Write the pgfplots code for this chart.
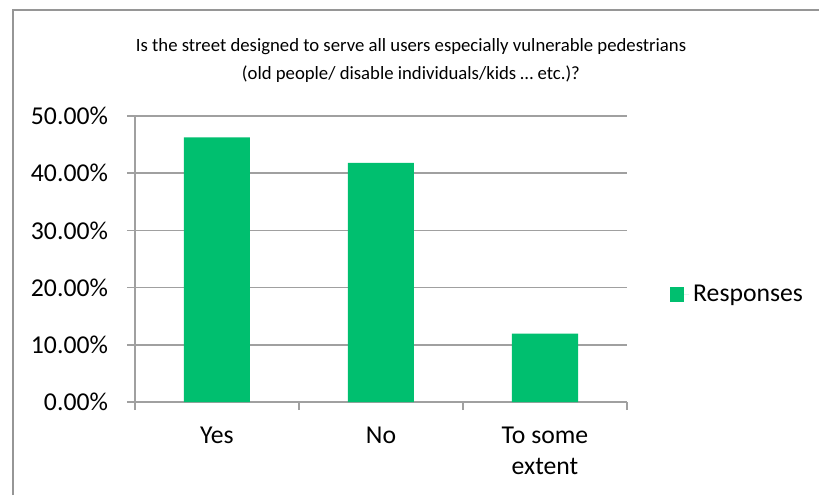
\documentclass[border=0pt]{standalone}
\usepackage{fontspec}
\setmainfont{Carlito}
\usepackage{pgfplots}
\pgfplotsset{compat=1.18}
\usetikzlibrary{calc}
\definecolor{bargreen}{RGB}{0,191,111}
\definecolor{gridgray}{RGB}{160,160,160}
\definecolor{framegray}{RGB}{150,150,150}
\begin{document}
\begin{tikzpicture}[x=0.5pt,y=0.5pt]
\begin{axis}[
  at={(0,0)}, anchor=south west,
  scale only axis, width=246pt, height=143pt,
  xmin=-0.5, xmax=2.5, ymin=0, ymax=50,
  axis x line*=bottom, axis y line*=left,
  axis line style={gridgray, -, line width=0.8pt},
  ytick={0,10,20,30,40,50},
  ymajorgrids, grid style={gridgray, line width=0.8pt},
  yticklabel={\pgfmathprintnumber[fixed,fixed zerofill,precision=2]{\tick}\%},
  /pgf/number format/assume math mode=true,
  tick align=outside, major tick length=4pt, minor tick length=4pt,
  tick style={gridgray, line width=0.8pt},
  xtick={0,1,2}, xticklabels={Yes,No,{To some\\extent}},
  xticklabel style={align=center, yshift=-5pt},
  yticklabel style={xshift=-6pt},
  major x tick style={draw=none},
  minor xtick={-0.5,0.5,1.5,2.5},
  ticklabel style={font=\fontsize{12.85}{15.5}\selectfont},
  legend style={at={(1.087,0.376)}, anchor=west, draw=none, fill=none,
    font=\fontsize{12.85}{15.5}\selectfont, inner sep=0pt},
  legend image code/.code={\fill[bargreen] (0pt,-3.7pt) rectangle (7pt,3.7pt); \path (0pt,0pt) -- (9.5pt,0pt);},
]
\addplot[ybar, fill=bargreen, draw=none, bar width=33pt] coordinates {(0,46.27) (1,41.79) (2,11.94)};
\addlegendentry{Responses}
\coordinate (SW) at (rel axis cs:0,0);
\end{axis}
\pgfresetboundingbox
\begin{scope}[shift={($(SW)+(-135,-93)$)}]
\path[use as bounding box] (0,0) rectangle (819,495);
\draw[framegray, line width=1pt] (13,0) -- (13,485) -- (819,485);
\node[font=\fontsize{9.36}{14}\selectfont, align=center] at (411,434) {Is the street designed to serve all users especially vulnerable pedestrians\\(old people/ disable individuals/kids … etc.)?};
\end{scope}
\end{tikzpicture}
\end{document}
